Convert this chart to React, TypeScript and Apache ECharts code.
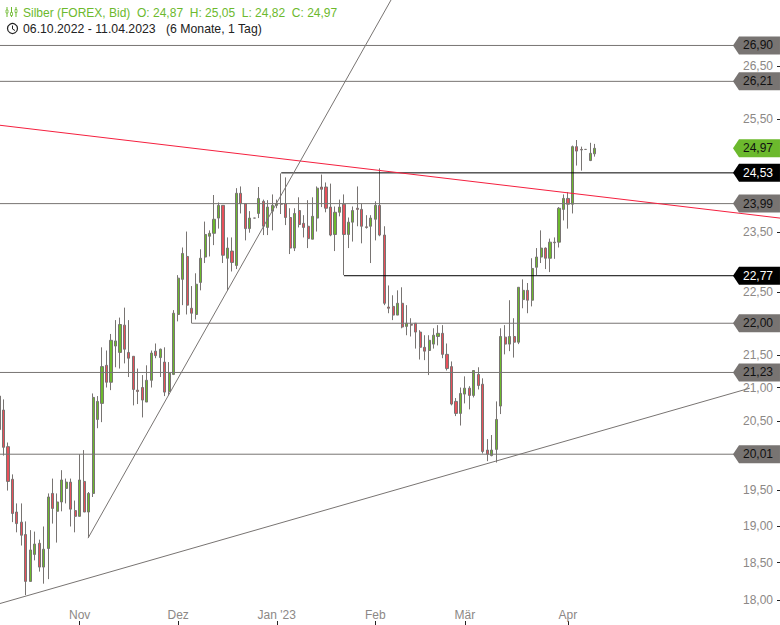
import React, { useEffect, useRef } from "react";
import * as echarts from "echarts";

const opens = [20.87,20.66,20.12,19.65,19.19,19.05,18.88,18.25,18.61,18.76,18.44,18.69,19.45,19.20,19.33,19.52,19.61,19.21,19.13,19.62,19.19,19.45,20.52,20.76,21.34,21.08,21.64,21.54,21.97,21.54,21.48,20.96,21.00,20.78,21.11,21.56,21.46,21.39,20.94,21.20,22.14,22.71,23.09,22.24,22.14,22.66,23.08,23.43,23.48,23.74,23.96,23.06,23.18,22.94,24.17,23.99,23.56,23.74,23.82,24.03,23.58,23.86,23.96,23.99,23.99,23.75,23.23,23.87,23.65,23.60,23.38,23.74,24.28,24.28,23.93,23.46,23.84,23.98,23.46,23.67,23.91,23.89,23.59,23.60,23.72,23.96,23.45,22.26,22.27,22.13,22.32,21.95,21.98,22.00,21.86,21.62,21.57,21.67,21.79,21.84,21.51,21.32,20.79,20.61,20.90,20.99,20.88,21.20,21.05,20.07,19.99,20.08,20.72,21.78,21.67,21.79,21.70,22.38,22.53,22.37,22.91,23.08,23.23,23.06,23.33,23.33,23.89,24.08,23.98,25.00,24.95,24.95,24.75,24.87];
const closes = [20.37,20.11,19.62,19.17,19.03,18.87,18.25,18.67,18.75,18.44,18.68,19.40,19.24,19.33,19.64,19.61,19.23,19.13,19.64,19.19,19.45,20.85,20.79,21.32,21.08,21.73,21.72,21.98,21.59,21.45,20.97,20.94,20.81,21.11,21.53,21.49,21.59,20.93,21.22,22.16,22.73,23.14,22.29,22.16,22.63,23.06,23.46,23.48,23.72,23.96,23.11,23.23,22.99,24.17,23.99,23.56,23.74,23.74,24.08,23.60,23.93,23.96,23.99,23.98,23.75,23.23,23.82,23.63,23.58,23.39,23.77,24.26,24.24,23.91,23.45,23.84,23.93,23.46,23.67,23.87,23.89,23.60,23.58,23.74,23.96,23.45,22.32,22.24,22.13,22.32,21.94,22.00,21.97,21.86,21.62,21.56,21.73,21.81,21.84,21.51,21.29,20.75,20.61,20.91,20.99,20.88,21.26,21.03,20.05,20.01,20.07,20.52,21.79,21.67,21.79,21.70,22.58,22.53,22.37,22.89,23.08,23.23,23.06,23.33,23.32,23.91,24.08,23.98,25.00,24.92,24.94,24.95,24.88,24.97];
const lows = [20.37,19.99,19.49,19.05,18.91,18.73,18.07,18.25,18.53,18.38,18.22,18.28,19.03,18.77,19.20,19.31,18.99,18.91,19.13,19.19,18.84,19.40,20.39,20.48,21.00,20.96,21.31,21.29,21.37,21.16,20.73,20.75,20.55,20.78,21.00,21.45,21.16,20.87,20.88,21.19,22.03,22.29,22.14,22.00,22.06,22.53,22.98,23.09,23.28,23.56,22.98,22.53,22.84,22.88,23.82,23.36,23.49,23.74,23.74,23.45,23.45,23.53,23.91,23.81,23.62,23.13,23.18,23.58,23.41,23.23,23.38,23.51,23.93,23.84,23.43,23.18,23.77,22.78,23.23,23.34,23.60,23.31,23.56,22.98,23.36,23.43,22.29,22.16,22.05,22.13,21.92,21.81,21.79,21.60,21.43,21.42,21.19,21.60,21.65,21.45,21.26,20.73,20.57,20.43,20.76,20.67,20.85,20.97,20.02,19.91,19.98,19.89,20.60,21.51,21.56,21.46,21.67,22.24,22.16,22.27,22.78,22.98,22.88,22.83,23.05,23.24,23.70,23.56,23.82,24.66,24.57,24.95,24.74,24.82];
const highs = [20.87,20.82,20.18,19.72,19.31,19.31,19.06,18.94,18.92,18.81,18.99,19.45,19.66,19.45,19.78,19.66,19.66,19.35,20.01,20.07,19.47,20.91,20.87,21.62,21.57,21.83,22.05,22.09,22.25,22.05,21.48,21.29,21.19,21.34,21.57,21.68,21.60,21.62,21.39,22.21,22.78,23.24,23.51,22.60,22.81,23.21,23.68,23.53,24.14,24.01,23.96,23.41,23.41,24.26,24.29,23.99,23.86,23.74,24.28,24.06,24.05,24.15,24.06,24.52,24.45,23.91,23.91,24.10,23.79,24.05,24.10,24.29,24.50,24.36,24.34,23.94,24.06,24.15,23.75,23.94,24.29,23.99,23.79,23.79,24.03,24.61,23.60,22.61,22.45,22.53,22.58,22.29,22.08,22.00,21.89,21.81,21.81,21.92,21.97,21.97,21.68,21.40,20.84,21.00,21.17,21.02,21.26,21.31,21.14,20.23,20.29,20.79,21.92,21.97,22.37,22.08,22.58,22.71,22.65,23.06,23.23,23.53,23.24,23.39,23.41,23.93,24.15,24.19,25.02,25.12,25.00,24.95,25.07,25.05];

const xMin = 0.2232;
const xMax = 174.33;
const monthIndexes = [18, 40, 62, 84, 104, 127];
const monthLabels = ["Nov", "Dez", "Jan '23", "Feb", "Mär", "Apr"];
const yTickValues = [18, 18.5, 19, 19.5, 20.5, 21, 21.5, 22.5, 23.5, 25.5, 26.5];

const flagIndex = 169.08;
const flagPrices = [26.9, 26.21, 24.97, 24.53, 23.99, 22.77, 22.0, 21.23, 20.01];
const flagKinds = ["gray", "gray", "green", "black", "gray", "black", "gray", "gray", "gray"];
const levelStarts = [xMin, xMin, null, 63, xMin, 77, 43, xMin, xMin];

const redTrend = [[xMin, 25.39], [xMax, 23.74]];
const steepTrend = [[19.87, 18.83], [87.5, 27.8]];
const floorTrend = [[xMin, 17.96], [167.6, 20.99]];

const GRAY = "#787472";
const GREEN = "#6cb92d";
const RED = "#e8505b";
const BLACK = "#000000";
const fmt = (v: number) => v.toFixed(2).replace(".", ",");

const kindColor: Record<string, string> = { gray: GRAY, green: GREEN, black: BLACK };

function buildOption() {
  const candles = opens.map((o, i) => [i, o, closes[i], lows[i], highs[i]]);
  const lineSeries = (data: (number[])[], color: string, name: string) => ({
    type: "line", name, data, showSymbol: false, symbol: "none",
    lineStyle: { color, width: 1 }, z: 5, silent: true,
  });
  const levels = flagPrices
    .map((p, i) => ({ p, start: levelStarts[i], kind: flagKinds[i] }))
    .filter((l) => l.start !== null)
    .map((l) => lineSeries([[l.start as number, l.p], [flagIndex - 3, l.p]], kindColor[l.kind], "level " + l.p));
  return {
    animation: false,
    grid: { left: 0, right: 0, top: 0, bottom: 0, containLabel: false },
    xAxis: {
      type: "value", min: xMin, max: xMax,
      axisLine: { show: false },
      axisTick: { show: true, inside: true, length: 4, customValues: monthIndexes, lineStyle: { color: "#222", width: 1 } },
      axisLabel: {
        show: true, inside: true, margin: 4, customValues: monthIndexes,
        formatter: (v: number) => monthLabels[monthIndexes.indexOf(v)] ?? "",
        color: "#8c8886", fontSize: 12, fontFamily: "Liberation Sans",
      },
      splitLine: { show: false },
    },
    yAxis: {
      type: "log", logBase: 10, min: 17.683, max: 27.8, position: "right",
      axisLine: { show: false },
      axisTick: { show: true, inside: true, length: 3, customValues: yTickValues, lineStyle: { color: "#222", width: 1 } },
      axisLabel: { show: true, inside: true, margin: 7, customValues: yTickValues, color: "#8c8886", fontSize: 12, fontFamily: "Liberation Sans", formatter: (v: number) => fmt(v) },
      splitLine: { show: false },
    },
    series: [
      {
        type: "candlestick", data: candles, barWidth: 2.6, z: 3, clip: false,
        encode: { x: 0, y: [1, 2, 3, 4] },
        itemStyle: { color: GREEN, color0: RED, borderColor: GRAY, borderColor0: GRAY, borderColorDoji: GRAY, borderWidth: 1 },
      },
      ...levels,
      lineSeries(redTrend, "#f5203f", "red trend"),
      lineSeries(steepTrend, GRAY, "steep trend"),
      lineSeries(floorTrend, GRAY, "floor trend"),
      {
        type: "scatter", z: 8, silent: true,
        symbol: "path://M6 0L47 0L47 18L6 18L0 9Z", symbolSize: [47, 18], symbolKeepAspect: false,
        data: flagPrices.map((p, i) => ({
          value: [flagIndex, p],
          itemStyle: { color: kindColor[flagKinds[i]], opacity: 1 },
          label: {
            show: true, position: "inside", offset: [1.5, 0], formatter: fmt(p),
            color: flagKinds[i] === "black" ? "#ffffff" : "#111111",
            fontSize: 12, fontFamily: "Liberation Sans",
          },
        })),
      },
    ],
    graphic: [
      { type: "text", x: 23, y: 6.5, silent: true, style: { text: "Silber (FOREX, Bid)  O: 24,87  H: 25,05  L: 24,82  C: 24,97", fill: GREEN, font: "12px 'Liberation Sans'" } },
      { type: "text", x: 23, y: 22.5, silent: true, style: { text: "06.10.2022 - 11.04.2023", fill: "#222222", font: "12.25px 'Liberation Sans'" } },
      { type: "text", x: 166, y: 22.5, silent: true, style: { text: "(6 Monate, 1 Tag)", fill: "#222222", font: "12.25px 'Liberation Sans'" } },
      { type: "circle", shape: { cx: 12.5, cy: 28.5, r: 5 }, style: { fill: "none", stroke: "#222222", lineWidth: 1.2 } },
      { type: "polyline", shape: { points: [[12.5, 25.5], [12.5, 29], [15, 30.5]] }, style: { fill: "none", stroke: "#222222", lineWidth: 1 } },
      ...[[7, 7, 17, 10, 13], [11.5, 7, 17, 12.5, 15.5], [16, 7, 17, 9.5, 12.5]].map(([x, y1, y2, b1, b2]) => ({
        type: "group",
        children: [
          { type: "line", shape: { x1: x, y1, x2: x, y2 }, style: { stroke: GREEN, lineWidth: 1 } },
          { type: "rect", shape: { x: x - 1, y: b1, width: 2, height: b2 - b1 }, style: { fill: "#ffffff", stroke: GREEN, lineWidth: 0.8 } },
        ],
      })),
    ],
  };
}

export default function App() {
  const ref = useRef<HTMLDivElement>(null);
  useEffect(() => {
    document.body.style.margin = "0";
    const chart = echarts.init(ref.current!, undefined, { renderer: "svg" });
    chart.setOption(buildOption() as any);
    return () => chart.dispose();
  }, []);
  return <div ref={ref} style={{ width: 780, height: 625, overflow: "hidden", background: "#ffffff" }} />;
}
